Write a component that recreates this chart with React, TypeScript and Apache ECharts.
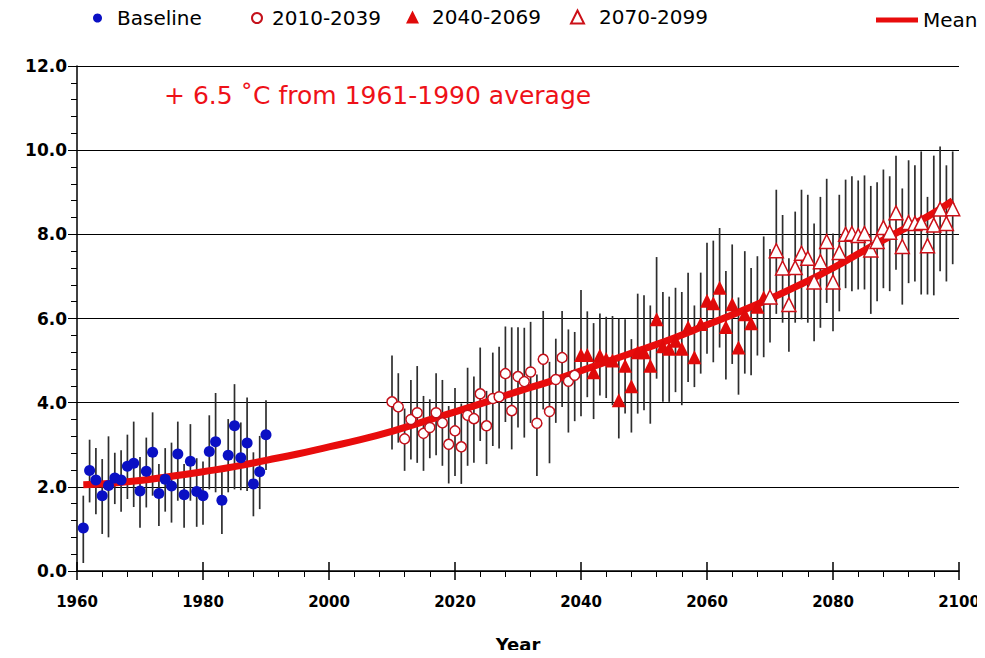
import React, { useEffect, useRef } from "react";
import * as echarts from "echarts";

// ---------- DATA ----------
const baselineYears = [1961, 1962, 1963, 1964, 1965, 1966, 1967, 1968, 1969, 1970, 1971, 1972, 1973, 1974, 1975, 1976, 1977, 1978, 1979, 1980, 1981, 1982, 1983, 1984, 1985, 1986, 1987, 1988, 1989, 1990];
const baselineValues = [1.02, 2.39, 2.16, 1.79, 2.03, 2.21, 2.16, 2.49, 2.56, 1.9, 2.37, 2.82, 1.84, 2.18, 2.02, 2.78, 1.81, 2.61, 1.89, 1.79, 2.84, 3.07, 1.68, 2.75, 3.45, 2.69, 3.04, 2.07, 2.36, 3.24];
const baselineLow = [0.19, 1.63, 1.35, 0.88, 0.8, 1.59, 1.41, 1.71, 1.52, 1.03, 1.51, 1.79, 1.07, 1.41, 1.15, 1.67, 1.03, 1.67, 1.05, 1.1, 1.94, 1.87, 0.88, 1.87, 1.94, 1.92, 1.9, 1.3, 1.47, 2.4];
const baselineHigh = [1.79, 3.12, 2.92, 2.66, 3.2, 2.81, 2.87, 3.24, 3.55, 2.71, 3.17, 3.77, 2.54, 2.92, 3.05, 3.55, 2.54, 3.49, 2.68, 2.6, 3.7, 4.23, 2.38, 3.61, 4.44, 3.53, 4.12, 2.82, 3.21, 4.06];

const p1Years = [2010, 2011, 2012, 2013, 2014, 2015, 2016, 2017, 2018, 2019, 2020, 2021, 2022, 2023, 2024, 2025, 2026, 2027, 2028, 2029, 2030, 2031, 2032, 2033, 2034, 2035, 2036, 2037, 2038, 2039];
const p1Values = [4.02, 3.9, 3.14, 3.6, 3.76, 3.27, 3.41, 3.76, 3.52, 3.01, 3.33, 2.95, 3.7, 3.62, 4.21, 3.45, 4.1, 4.14, 4.69, 3.81, 4.62, 4.5, 4.73, 3.51, 5.03, 3.79, 4.55, 5.07, 4.51, 4.65];
const p1Low = [2.89, 3.05, 2.38, 2.65, 2.57, 2.38, 2.68, 2.75, 2.5, 2.08, 2.26, 2.07, 2.5, 2.57, 3.09, 2.54, 2.97, 2.91, 3.54, 2.89, 3.41, 3.17, 3.52, 2.26, 3.84, 2.56, 3.52, 3.9, 3.29, 3.56];
const p1High = [5.12, 4.7, 3.86, 4.54, 4.87, 4.16, 4.08, 4.7, 4.54, 3.92, 4.35, 3.98, 4.83, 4.62, 5.31, 4.28, 5.19, 5.33, 5.81, 5.79, 5.79, 5.78, 5.92, 4.67, 6.18, 4.97, 5.52, 6.18, 5.74, 5.68];

const p2Years = [2040, 2041, 2042, 2043, 2044, 2045, 2046, 2047, 2048, 2049, 2050, 2051, 2052, 2053, 2054, 2055, 2056, 2057, 2058, 2059, 2060, 2061, 2062, 2063, 2064, 2065, 2066, 2067, 2068, 2069];
const p2Values = [5.13, 5.13, 4.72, 5.12, 5.04, 5.0, 4.06, 4.88, 4.39, 5.2, 5.2, 4.88, 5.98, 5.34, 5.28, 5.47, 5.28, 5.79, 5.08, 5.87, 6.42, 6.36, 6.73, 5.8, 6.34, 5.31, 6.1, 5.89, 6.28, 6.5];
const p2Low = [3.68, 4.13, 3.61, 4.17, 4.11, 3.94, 3.15, 3.74, 3.29, 3.74, 3.82, 3.5, 4.57, 4.02, 4.02, 4.25, 3.94, 4.49, 4.37, 4.69, 5.16, 4.96, 5.31, 4.55, 4.92, 4.19, 4.69, 4.65, 5.12, 5.08];
const p2High = [6.68, 6.17, 5.89, 6.12, 6.04, 6.06, 6.0, 5.98, 5.51, 6.59, 6.55, 6.31, 7.46, 6.63, 6.52, 6.73, 6.63, 7.09, 6.31, 7.09, 7.8, 7.85, 8.15, 7.13, 7.76, 6.5, 7.6, 7.2, 7.48, 7.95];

const p3Years = [2070, 2071, 2072, 2073, 2074, 2075, 2076, 2077, 2078, 2079, 2080, 2081, 2082, 2083, 2084, 2085, 2086, 2087, 2088, 2089, 2090, 2091, 2092, 2093, 2094, 2095, 2096, 2097, 2098, 2099];
const p3Values = [6.51, 7.61, 7.2, 6.33, 7.21, 7.55, 7.43, 6.87, 7.35, 7.83, 6.87, 7.57, 8.0, 8.02, 7.97, 8.02, 7.63, 7.83, 8.16, 8.05, 8.51, 7.71, 8.28, 8.26, 8.28, 7.73, 8.22, 8.6, 8.26, 8.61];
const p3Low = [5.43, 6.11, 5.9, 5.21, 5.9, 5.98, 5.9, 5.46, 5.78, 6.37, 5.7, 6.17, 6.72, 6.65, 6.69, 6.69, 6.11, 6.41, 6.72, 6.65, 7.16, 6.33, 6.84, 6.88, 6.57, 6.57, 6.55, 7.12, 6.88, 7.29];
const p3High = [7.65, 9.06, 8.46, 7.43, 8.54, 9.06, 8.94, 8.26, 8.89, 9.32, 8.02, 8.94, 9.3, 9.38, 9.28, 9.4, 9.15, 9.24, 9.54, 9.38, 9.87, 9.09, 9.76, 9.64, 9.97, 8.89, 9.87, 10.09, 9.64, 9.97];

const meanYears = [1961, 1965, 1970, 1975, 1980, 1985, 1990, 1995, 2000, 2005, 2010, 2015, 2020, 2025, 2030, 2035, 2040, 2045, 2050, 2055, 2060, 2065, 2070, 2075, 2080, 2085, 2090, 2095, 2099];
const meanValues = [2.05, 2.08, 2.15, 2.25, 2.36, 2.48, 2.63, 2.78, 2.95, 3.12, 3.32, 3.55, 3.78, 4.02, 4.27, 4.5, 4.76, 5.02, 5.28, 5.55, 5.85, 6.15, 6.47, 6.82, 7.2, 7.62, 8.03, 8.42, 8.8];

const seriesNames = ["Baseline", "2010-2039", "2040-2069", "2070-2099", "Mean"];
const titleText = "+ 6.5 \u02DAC from 1961-1990 average";
const xAxisName = "Year";

// ---------- CHART ----------
const LABEL_FONT = "DejaVu Sans";

function pairs(xs: number[], ys: number[]) {
  return xs.map((x, i) => [x, ys[i]]);
}
function ranges(xs: number[], lo: number[], hi: number[]) {
  return xs.map((x, i) => [x, lo[i], hi[i]]);
}

function errorBarSeries(data: number[][]) {
  return {
    type: "custom",
    silent: true,
    z: 1,
    data,
    encode: { x: 0, y: [1, 2] },
    renderItem: (_params: any, api: any) => {
      const x = api.value(0);
      const a = api.coord([x, api.value(1)]);
      const b = api.coord([x, api.value(2)]);
      return {
        type: "line",
        shape: { x1: a[0], y1: a[1], x2: b[0], y2: b[1] },
        style: { stroke: "#2e2e2e", lineWidth: 1.7 },
      };
    },
  };
}

function legendAt(name: string, icon: string, left: number, w: number, h: number, pad: number, top: number) {
  return {
    data: [{ name, icon }],
    left,
    top,
    itemWidth: w,
    itemHeight: h,
    padding: 0,
    selectedMode: false,
    textStyle: { fontFamily: LABEL_FONT, fontSize: 20, color: "#000", padding: [0, 0, 0, pad] },
  };
}

export default function App() {
  const ref = useRef<HTMLDivElement>(null);

  useEffect(() => {
    if (!ref.current) return;
    const chart = echarts.init(ref.current, null, { renderer: "svg" });

    const option: any = {
      animation: false,
      backgroundColor: "#ffffff",
      title: {
        text: titleText,
        left: 164,
        top: 83,
        padding: 0,
        textStyle: {
          fontFamily: LABEL_FONT,
          fontWeight: "normal",
          fontSize: 25,
          color: "#ee1118",
        },
      },
      legend: [
        legendAt(seriesNames[0], "circle", 93, 9, 9, 10, 8),
        legendAt(seriesNames[1], "circle", 251, 10, 10, 5, 8),
        legendAt(seriesNames[2], "triangle", 406, 13, 13, 8, 7),
        legendAt(seriesNames[3], "triangle", 570, 13, 13, 10, 7),
        legendAt(seriesNames[4], "rect", 876, 42, 5, 0, 10),
      ],
      grid: { left: 77, right: 26, top: 66, bottom: 87, containLabel: false },
      xAxis: [
        {
          type: "value",
          min: 1960,
          max: 2100,
          interval: 20,
          name: xAxisName,
          nameLocation: "middle",
          nameGap: 64,
          nameTextStyle: {
            fontFamily: LABEL_FONT,
            fontWeight: "bold",
            fontSize: 18,
            color: "#000",
          },
          axisLine: { show: true, lineStyle: { color: "#000", width: 1.5 } },
          axisTick: { show: true, length: 9, lineStyle: { color: "#000", width: 1.5 } },
          minorTick: { show: true, splitNumber: 5, length: 6, lineStyle: { color: "#000", width: 1 } },
          splitLine: { show: false },
          axisLabel: {
            margin: 23,
            fontFamily: LABEL_FONT,
            fontWeight: "bold",
            fontSize: 15,
            color: "#000",
            formatter: (v: number) => String(v),
          },
        },
        {
          type: "value",
          min: 1960,
          max: 2100,
          interval: 20,
          position: "bottom",
          axisLine: { show: false },
          axisTick: { show: true, inside: true, length: 9, lineStyle: { color: "#000", width: 1.5 } },
          axisLabel: { show: false },
          splitLine: { show: false },
        },
      ],
      yAxis: {
        type: "value",
        min: 0,
        max: 12,
        interval: 2,
        axisLine: { show: true, lineStyle: { color: "#000", width: 1.5 } },
        axisTick: { show: true, length: 9, lineStyle: { color: "#000", width: 1 } },
        minorTick: { show: true, splitNumber: 5, length: 6, lineStyle: { color: "#000", width: 1 } },
        splitLine: { show: true, lineStyle: { color: "#000", width: 1 } },
        axisLabel: {
          margin: 10,
          fontFamily: LABEL_FONT,
          fontWeight: "bold",
          fontSize: 17,
          color: "#000",
          formatter: (v: number) => v.toFixed(1),
        },
      },
      series: [
        errorBarSeries(ranges(baselineYears, baselineLow, baselineHigh)),
        errorBarSeries(ranges(p1Years, p1Low, p1High)),
        errorBarSeries(ranges(p2Years, p2Low, p2High)),
        errorBarSeries(ranges(p3Years, p3Low, p3High)),
        {
          name: seriesNames[4],
          type: "line",
          z: 2,
          smooth: true,
          symbol: "none",
          data: pairs(meanYears, meanValues),
          lineStyle: { color: "#e80c0c", width: 7 },
          itemStyle: { color: "#e80c0c" },
        },
        {
          name: seriesNames[0],
          type: "scatter",
          z: 3,
          symbol: "circle",
          symbolSize: 11,
          data: pairs(baselineYears, baselineValues),
          itemStyle: { color: "#0a10c4", opacity: 1 },
        },
        {
          name: seriesNames[1],
          type: "scatter",
          z: 3,
          symbol: "circle",
          symbolSize: 10,
          data: pairs(p1Years, p1Values),
          itemStyle: { color: "#ffffff", borderColor: "#c4101a", borderWidth: 1.5, opacity: 1 },
        },
        {
          name: seriesNames[2],
          type: "scatter",
          z: 3,
          symbol: "triangle",
          symbolSize: 14,
          data: pairs(p2Years, p2Values),
          itemStyle: { color: "#e00a0a", opacity: 1 },
        },
        {
          name: seriesNames[3],
          type: "scatter",
          z: 3,
          symbol: "triangle",
          symbolSize: 14,
          data: pairs(p3Years, p3Values),
          itemStyle: { color: "#ffffff", borderColor: "#cc1018", borderWidth: 1.5, opacity: 1 },
        },
      ],
    };

    chart.setOption(option);
    return () => {
      chart.dispose();
    };
  }, []);

  return <div ref={ref} style={{ width: 985, height: 658, margin: -8 }} />;
}
